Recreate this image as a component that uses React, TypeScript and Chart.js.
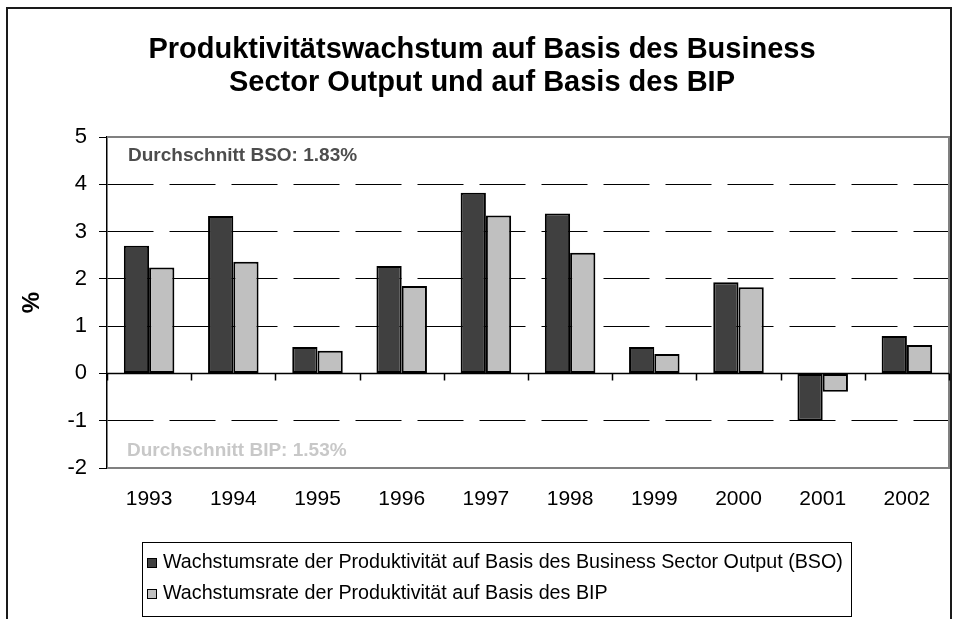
import React, { useEffect, useRef } from "react";
import { Chart, registerables } from "chart.js";

Chart.register(...registerables);

const years = ["1993", "1994", "1995", "1996", "1997", "1998", "1999", "2000", "2001", "2002"];
const bsoValues = [2.7, 3.33, 0.56, 2.27, 3.82, 3.38, 0.56, 1.93, -1.0, 0.79];
const bipValues = [2.24, 2.36, 0.48, 1.85, 3.34, 2.55, 0.41, 1.82, -0.39, 0.6];
const yMin = -2;
const yMax = 5;
const yStep = 1;
const titleLines = [
  "Produktivitätswachstum auf Basis des Business",
  "Sector Output und auf Basis des BIP",
];
const seriesLabels = [
  "Wachstumsrate der Produktivität auf Basis des Business Sector Output (BSO)",
  "Wachstumsrate der Produktivität auf Basis des BIP",
];
const averageLabels = ["Durchschnitt BSO: 1.83%", "Durchschnitt BIP: 1.53%"];
const yAxisTitle = "%";

const FONT = "'Liberation Sans', Arial, Helvetica, sans-serif";
const BSO_COLOR = "#404040";
const BIP_COLOR = "#c0c0c0";

const decor = {
  id: "decor",
  beforeDraw(chart: any) {
    const { ctx, chartArea: a } = chart;
    ctx.save();
    ctx.fillStyle = "#ffffff";
    ctx.fillRect(0, 0, chart.width, chart.height);
    // outer frame
    ctx.strokeStyle = "#1a1a1a";
    ctx.lineWidth = 2;
    ctx.strokeRect(7, 8, 944, 700);
    // title
    ctx.fillStyle = "#000";
    ctx.font = `bold 29px ${FONT}`;
    ctx.textAlign = "center";
    ctx.textBaseline = "alphabetic";
    titleLines.forEach((t, i) => ctx.fillText(t, 482, 58 + i * 33));
    // y axis title
    ctx.save();
    ctx.translate(32, (a.top + a.bottom) / 2);
    ctx.rotate(-Math.PI / 2);
    ctx.font = `bold 24px ${FONT}`;
    ctx.textBaseline = "middle";
    ctx.fillText(yAxisTitle, 0, 0);
    ctx.restore();
    // legend
    ctx.strokeStyle = "#000";
    ctx.lineWidth = 1;
    ctx.strokeRect(142.5, 542.5, 709, 74);
    ctx.font = `19.7px ${FONT}`;
    ctx.textAlign = "left";
    const colors = [BSO_COLOR, BIP_COLOR];
    chart.data.datasets.forEach((ds: any, i: number) => {
      const base = 568 + i * 31;
      ctx.fillStyle = colors[i];
      ctx.fillRect(147, base - 10, 10, 10);
      ctx.strokeStyle = "#000";
      ctx.strokeRect(147.5, base - 9.5, 9, 9);
      ctx.fillStyle = "#000";
      ctx.fillText(ds.label, 163, base);
    });
    ctx.restore();
  },
  beforeDatasetsDraw(chart: any) {
    const { ctx, chartArea: a, scales } = chart;
    ctx.save();
    // gray plot border
    ctx.strokeStyle = "#808080";
    ctx.lineWidth = 2;
    ctx.beginPath();
    ctx.moveTo(a.left, a.top);
    ctx.lineTo(a.right, a.top);
    ctx.lineTo(a.right, a.bottom);
    ctx.lineTo(a.left, a.bottom);
    ctx.stroke();
    // zero line with category ticks
    const y0 = Math.round(scales.y.getPixelForValue(0)) + 0.5;
    ctx.strokeStyle = "#000";
    ctx.lineWidth = 1.5;
    ctx.beginPath();
    ctx.moveTo(a.left, y0);
    ctx.lineTo(a.right, y0);
    const n = years.length;
    const half = (scales.x.getPixelForValue(1) - scales.x.getPixelForValue(0)) / 2;
    for (let i = 0; i <= n; i++) {
      const x = i < n ? scales.x.getPixelForValue(i) - half : a.right;
      const xr = Math.round(x) + 0.5;
      ctx.moveTo(xr, y0);
      ctx.lineTo(xr, y0 + 7);
    }
    ctx.stroke();
    ctx.restore();
  },
  afterDatasetsDraw(chart: any) {
    const { ctx, chartArea: a } = chart;
    ctx.save();
    ctx.font = `bold 19px ${FONT}`;
    ctx.textAlign = "left";
    ctx.textBaseline = "alphabetic";
    ctx.fillStyle = "#4d4d4d";
    ctx.fillText(averageLabels[0], a.left + 21, a.top + 24);
    ctx.fillStyle = "#c8c8c8";
    ctx.fillText(averageLabels[1], a.left + 20, a.bottom - 12);
    ctx.restore();
  },
};

export default function App() {
  const ref = useRef<HTMLCanvasElement | null>(null);
  useEffect(() => {
    if (!ref.current) return;
    const chart = new Chart(ref.current, {
      type: "bar",
      data: {
        labels: years,
        datasets: [
          {
            label: seriesLabels[0],
            data: bsoValues,
            backgroundColor: BSO_COLOR,
            borderColor: "#000",
            borderWidth: 2,
            borderSkipped: false,
            categoryPercentage: 0.6,
            barPercentage: 1,
          },
          {
            label: seriesLabels[1],
            data: bipValues,
            backgroundColor: BIP_COLOR,
            borderColor: "#000",
            borderWidth: 2,
            borderSkipped: false,
            categoryPercentage: 0.6,
            barPercentage: 1,
          },
        ],
      },
      options: {
        responsive: false,
        animation: false,
        layout: { padding: { left: 0, top: 137, right: 6, bottom: 0 } },
        plugins: {
          legend: { display: false },
          title: { display: false },
          tooltip: { enabled: false },
        },
        scales: {
          x: {
            grid: { display: false, drawTicks: false },
            border: { display: false },
            ticks: {
              color: "#000",
              font: { family: FONT, size: 21 },
              padding: 19,
              maxRotation: 0,
            },
            afterFit: (s: any) => {
              s.height = 151;
            },
          },
          y: {
            min: yMin,
            max: yMax,
            ticks: {
              stepSize: yStep,
              color: "#000",
              font: { family: FONT, size: 22 },
              padding: 12,
            },
            grid: {
              color: (c: any) => {
                const v = c.tick ? c.tick.value : null;
                return v === yMin || v === yMax || v === 0 ? "rgba(0,0,0,0)" : "#000";
              },
              lineWidth: 1,
              tickBorderDash: [],
              tickColor: "#000",
              tickLength: 8,
              tickWidth: 1,
            },
            border: { display: true, color: "#000", width: 1.5, dash: [46, 16] },
            afterFit: (s: any) => {
              s.width = 107;
            },
          },
        },
      },
      plugins: [decor],
    });
    return () => chart.destroy();
  }, []);
  return (
    <div style={{ position: "absolute", left: 0, top: 0, width: 955, height: 619 }}>
      <canvas ref={ref} width={955} height={619} />
    </div>
  );
}
